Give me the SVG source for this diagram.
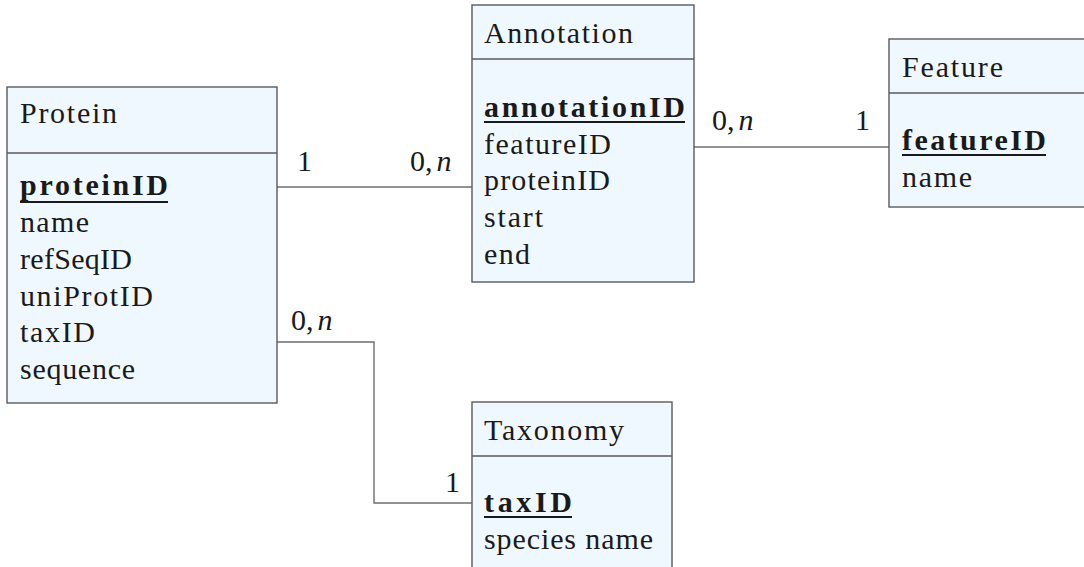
<svg xmlns="http://www.w3.org/2000/svg" width="1084" height="567" viewBox="0 0 1084 567">
  <style>
    .box { fill: #f0f8ff; stroke: #5a5a5a; stroke-width: 1.4; }
    .sep { stroke: #5a5a5a; stroke-width: 1.4; }
    .t { font-size: 30px; fill: #1a1a1a; }
    .k { font-weight: bold; }
    .ul { stroke: #1a1a1a; stroke-width: 2; }
    .conn { fill: none; stroke: #6e6e6e; stroke-width: 1.4; }
    .it { font-style: italic; }
  </style>
  <rect width="1084" height="567" fill="#ffffff"/>

  <g font-family="Liberation Serif, Tinos, DejaVu Serif, Noto Serif, FreeSerif, Times New Roman, serif">
  <g id="connectors">
    <line class="conn" x1="277" y1="187" x2="472" y2="187"/>
    <line class="conn" x1="694" y1="147" x2="889" y2="147"/>
    <polyline class="conn" points="277,342 374,342 374,503 472,503"/>
    <text class="t" x="297" y="171">1</text>
    <text class="t" x="410" y="171">0,<tspan class="it" dx="4">n</tspan></text>
    <text class="t" x="712" y="130">0,<tspan class="it" dx="4">n</tspan></text>
    <text class="t" x="855" y="130">1</text>
    <text class="t" x="291" y="330">0,<tspan class="it" dx="4">n</tspan></text>
    <text class="t" x="445" y="492">1</text>
  </g>

  <g id="protein">
    <rect class="box" x="7" y="87" width="270" height="316"/>
    <line class="sep" x1="7" y1="153" x2="277" y2="153"/>
    <text class="t" x="20" y="123" textLength="97" lengthAdjust="spacing">Protein</text>
    <text class="t k" x="20" y="195" textLength="148" lengthAdjust="spacing">proteinID</text>
    <line class="ul" x1="20" y1="202" x2="168" y2="202"/>
    <text class="t" x="20" y="232" textLength="69" lengthAdjust="spacing">name</text>
    <text class="t" x="20" y="269" textLength="112" lengthAdjust="spacing">refSeqID</text>
    <text class="t" x="20" y="306" textLength="133" lengthAdjust="spacing">uniProtID</text>
    <text class="t" x="20" y="342" textLength="75" lengthAdjust="spacing">taxID</text>
    <text class="t" x="20" y="379" textLength="115" lengthAdjust="spacing">sequence</text>
  </g>

  <g id="annotation">
    <rect class="box" x="472" y="5" width="222" height="277"/>
    <line class="sep" x1="472" y1="59" x2="694" y2="59"/>
    <text class="t" x="484" y="43" textLength="149" lengthAdjust="spacing">Annotation</text>
    <text class="t k" x="484" y="117" textLength="201" lengthAdjust="spacing">annotationID</text>
    <line class="ul" x1="484" y1="122" x2="685" y2="122"/>
    <text class="t" x="484" y="154" textLength="127" lengthAdjust="spacing">featureID</text>
    <text class="t" x="484" y="190" textLength="126" lengthAdjust="spacing">proteinID</text>
    <text class="t" x="484" y="227" textLength="59" lengthAdjust="spacing">start</text>
    <text class="t" x="484" y="264" textLength="46" lengthAdjust="spacing">end</text>
  </g>

  <g id="feature">
    <rect class="box" x="889" y="39" width="205" height="168"/>
    <line class="sep" x1="889" y1="93" x2="1094" y2="93"/>
    <text class="t" x="902" y="77" textLength="101" lengthAdjust="spacing">Feature</text>
    <text class="t k" x="902" y="150" textLength="144" lengthAdjust="spacing">featureID</text>
    <line class="ul" x1="902" y1="155" x2="1046" y2="155"/>
    <text class="t" x="902" y="187" textLength="70" lengthAdjust="spacing">name</text>
  </g>

  <g id="taxonomy">
    <rect class="box" x="472" y="402" width="200" height="180"/>
    <line class="sep" x1="472" y1="456" x2="672" y2="456"/>
    <text class="t" x="484" y="440" textLength="140" lengthAdjust="spacing">Taxonomy</text>
    <text class="t k" x="484" y="512" textLength="88" lengthAdjust="spacing">taxID</text>
    <line class="ul" x1="484" y1="517" x2="572" y2="517"/>
    <text class="t" x="484" y="549" textLength="169" lengthAdjust="spacing">species name</text>
  </g>
  </g>
</svg>
